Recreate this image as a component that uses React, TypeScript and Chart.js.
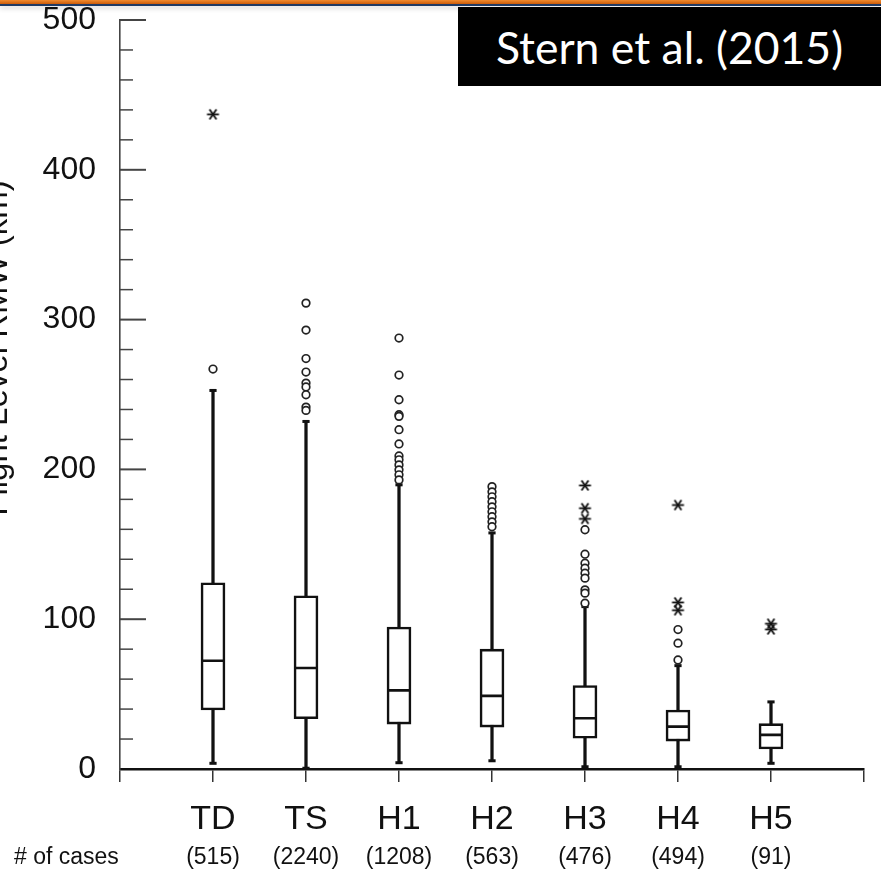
import { useEffect, useRef } from 'react';
import { Chart, registerables } from 'chart.js';

Chart.register(...registerables);

// Saffir-Simpson categories and sample sizes
const categories = ['TD', 'TS', 'H1', 'H2', 'H3', 'H4', 'H5'];
const caseCounts = [515, 2240, 1208, 563, 476, 494, 91];

// Box-and-whisker statistics (km)
const whiskerLow = [3.8, 0.5, 4.2, 5.5, 1.5, 1.5, 3.8];
const quartile1 = [39.4, 33.6, 30.0, 28.0, 20.5, 18.6, 13.4];
const medians = [72.3, 67.4, 52.5, 48.8, 33.9, 28.3, 22.8];
const quartile3 = [124.3, 115.6, 94.8, 80.0, 55.7, 39.4, 30.3];
const whiskerHigh = [252.7, 232.0, 189.7, 157.6, 108.4, 69.0, 44.8];

// Outliers: circles (mild) and asterisks (extreme)
const circleOutliers = [
  [267],
  [311, 293, 274, 265, 257.6, 255, 249.8, 241.6, 239.4],
  [287.7, 263, 246.5, 236.5, 235.4, 226.5, 217, 209, 206.4, 203, 199.7, 196.4, 193],
  [188.5, 185, 181.7, 178.4, 175, 171.7, 168.4, 165, 161.7],
  [159.7, 143.4, 137.4, 134, 130.7, 127.4, 119.6, 117.4, 110.7],
  [93.1, 84, 72.8],
  [],
];
const starOutliers = [[437], [], [], [], [189.3, 174.1, 167], [176.2, 111.2, 106], [97, 93.2]];

const yMin = 0;
const yMax = 500;
const yMajorStep = 100;
const yMinorStep = 20;

const FONT = '"Liberation Sans", Arial, Helvetica, sans-serif';
const INK = '#111';

function makeAsterisk(): HTMLCanvasElement {
  const size = 15;
  const c = document.createElement('canvas');
  c.width = size;
  c.height = size;
  const g = c.getContext('2d')!;
  g.strokeStyle = INK;
  g.lineWidth = 1.8;
  const cx = size / 2;
  const r = 6;
  for (const deg of [0, 55, -55]) {
    const a = (deg * Math.PI) / 180;
    g.beginPath();
    g.moveTo(cx - Math.cos(a) * r, cx - Math.sin(a) * r);
    g.lineTo(cx + Math.cos(a) * r, cx + Math.sin(a) * r);
    g.stroke();
  }
  return c;
}

const axisDecor = {
  id: 'axisDecor',
  afterDraw(chart: any) {
    const { ctx, chartArea } = chart;
    const y = chart.scales.y;
    const x2 = chart.scales.x2;
    ctx.save();
    // inward tick marks on the value axis (the baseline already has the category axis)
    ctx.strokeStyle = '#444';
    y.ticks.forEach((t: any) => {
      if (t.value === yMin) return;
      const py = y.getPixelForValue(t.value);
      const major = t.value % yMajorStep === 0;
      ctx.lineWidth = major ? 2 : 1.5;
      ctx.beginPath();
      ctx.moveTo(chartArea.left, py);
      ctx.lineTo(chartArea.left + (major ? 26 : 13), py);
      ctx.stroke();
    });
    // "# of cases" row caption
    ctx.fillStyle = INK;
    ctx.font = `23px ${FONT}`;
    ctx.textAlign = 'left';
    ctx.textBaseline = 'middle';
    ctx.fillText('# of cases', 14, x2.top + 4 + 13.8);
    // value-axis title
    ctx.font = `33px ${FONT}`;
    ctx.textAlign = 'center';
    ctx.textBaseline = 'alphabetic';
    ctx.translate(7, 348);
    ctx.rotate(-Math.PI / 2);
    ctx.fillText('Flight Level RMW (km)', 0, 0);
    ctx.restore();
  },
};

export default function App() {
  const ref = useRef<HTMLCanvasElement>(null);

  useEffect(() => {
    const canvas = ref.current!;
    const labels = ['', ...categories, ''];
    const padded = (arr: any[]) => [null, ...arr, null];
    const points = (vals: number[]) => vals.map((v, i) => ({ x: categories[i], y: v }));
    const flatPoints = (groups: number[][]) =>
      groups.flatMap((g, i) => g.map((v) => ({ x: categories[i], y: v })));

    const chart = new Chart(canvas, {
      type: 'bar',
      data: {
        labels,
        datasets: [
          {
            type: 'bar',
            label: 'whiskers',
            data: padded(categories.map((_, i) => [whiskerLow[i], whiskerHigh[i]])),
            backgroundColor: INK,
            borderWidth: 0,
            barThickness: 2.6,
            grouped: false,
            order: 6,
            xAxisID: 'x',
          },
          {
            type: 'bar',
            label: 'boxes',
            data: padded(categories.map((_, i) => [quartile1[i], quartile3[i]])),
            backgroundColor: '#fff',
            borderColor: INK,
            borderWidth: 2.6,
            borderSkipped: false,
            barThickness: 24,
            grouped: false,
            order: 5,
            xAxisID: 'x',
          },
          {
            type: 'line',
            label: 'medians',
            data: points(medians),
            showLine: false,
            pointStyle: 'line',
            pointRadius: 12,
            pointBorderWidth: 2.6,
            pointBorderColor: INK,
            order: 4,
            xAxisID: 'x',
          },
          {
            type: 'line',
            label: 'caps',
            data: [...points(whiskerLow), ...points(whiskerHigh)],
            showLine: false,
            pointStyle: 'line',
            pointRadius: 3.6,
            pointBorderWidth: 3,
            pointBorderColor: INK,
            order: 3,
            xAxisID: 'x',
          },
          {
            type: 'line',
            label: 'outliers',
            data: flatPoints(circleOutliers),
            showLine: false,
            pointStyle: 'circle',
            pointRadius: 3.8,
            pointBorderWidth: 1.7,
            pointBorderColor: '#222',
            pointBackgroundColor: '#fff',
            order: 2,
            xAxisID: 'x',
          },
          {
            type: 'line',
            label: 'extremes',
            data: flatPoints(starOutliers),
            showLine: false,
            pointStyle: makeAsterisk(),
            pointRadius: 6,
            order: 1,
            xAxisID: 'x',
          },
        ] as any,
      },
      options: {
        responsive: false,
        animation: false,
        devicePixelRatio: 1,
        layout: { padding: { left: 0, top: 20, right: 13, bottom: 2 } },
        plugins: { legend: { display: false }, tooltip: { enabled: false } },
        scales: {
          x: {
            type: 'category',
            position: 'bottom',
            weight: 0,
            offset: false,
            grid: {
              display: true,
              offset: false,
              drawOnChartArea: false,
              drawTicks: true,
              tickLength: 13,
              color: '#333',
              lineWidth: 1.5,
            },
            border: { display: true, color: INK, width: 2.6 },
            ticks: {
              autoSkip: false,
              maxRotation: 0,
              padding: 17,
              color: INK,
              font: { family: FONT, size: 34 },
            },
            afterFit: (s: any) => {
              s.height = 71;
            },
          },
          x2: {
            type: 'category',
            position: 'bottom',
            weight: 1,
            offset: false,
            labels: ['', ...caseCounts.map((n) => `(${n})`), ''],
            grid: { display: false, drawTicks: false, offset: false },
            border: { display: false },
            ticks: {
              autoSkip: false,
              maxRotation: 0,
              padding: 4,
              color: INK,
              font: { family: FONT, size: 23 },
            },
            afterFit: (s: any) => {
              s.height = 32;
            },
          },
          y: {
            type: 'linear',
            min: yMin,
            max: yMax,
            grid: { display: false, drawTicks: false },
            border: { display: true, color: '#444', width: 1.6 },
            ticks: {
              stepSize: yMinorStep,
              autoSkip: false,
              padding: 24,
              color: INK,
              font: { family: FONT, size: 32 },
              callback: (v: any) => (Number(v) % yMajorStep === 0 ? String(v) : ''),
            },
            afterFit: (s: any) => {
              s.width = 120;
              s.paddingTop = 20;
              s.paddingBottom = 0;
            },
          },
        },
      } as any,
      plugins: [axisDecor],
    });
    return () => chart.destroy();
  }, []);

  return (
    <div
      style={{
        position: 'fixed',
        left: 0,
        top: 0,
        width: 881,
        height: 874,
        overflow: 'hidden',
        background: '#fff',
      }}
    >
      <canvas
        ref={ref}
        width={881}
        height={874}
        style={{ position: 'absolute', left: 0, top: 0, width: 881, height: 874 }}
      />
      <div
        style={{
          position: 'absolute',
          left: 0,
          top: 0,
          width: 881,
          height: 4,
          background: 'linear-gradient(#f08a2e, #d2600c)',
        }}
      />
      <div
        style={{
          position: 'absolute',
          left: 0,
          top: 4,
          width: 881,
          height: 2,
          background: '#1f3a64',
          boxShadow: '0 2px 5px rgba(0,0,0,0.25)',
        }}
      />
      <div
        style={{
          position: 'absolute',
          left: 458,
          top: 7,
          width: 423,
          height: 79,
          background: '#000',
          color: '#fff',
          display: 'flex',
          alignItems: 'center',
          justifyContent: 'center',
          fontFamily: 'Lato, "Open Sans", sans-serif',
          fontSize: 44.5,
          whiteSpace: 'nowrap',
        }}
      >
        Stern et al. (2015)
      </div>
    </div>
  );
}
